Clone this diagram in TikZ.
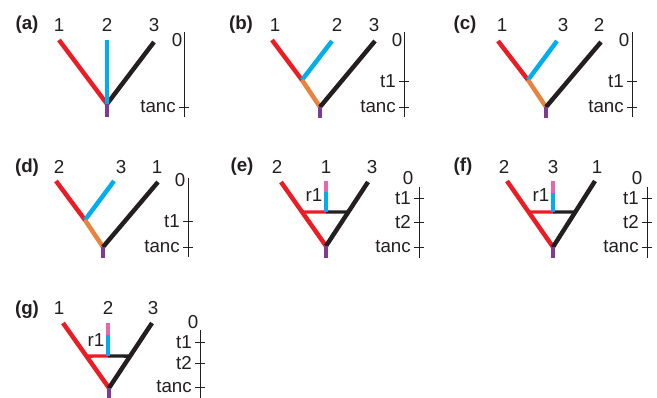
\documentclass[tikz,border=0pt]{standalone}
\usepackage{fontspec}
\setmainfont{Liberation Sans}
\usetikzlibrary{positioning,calc}
\definecolor{redline}{RGB}{237,28,36}
\definecolor{blueline}{RGB}{0,174,239}
\definecolor{blackline}{RGB}{35,31,32}
\definecolor{orangeline}{RGB}{232,132,62}
\definecolor{purpleline}{RGB}{128,58,148}
\definecolor{pinkline}{RGB}{234,102,170}

\tikzset{
  branch/.style={line width=3.8pt},
  link/.style={line width=2.8pt},
  stub/.style={line width=3.6pt, purpleline},
  timeline/.style={line width=0.8pt, blackline},
  leaf/.style={font=\fontsize{16}{18}\selectfont, inner sep=0pt, text=blackline},
  panel/.style={font=\fontsize{16}{18}\selectfont\bfseries, inner sep=0pt, text=blackline},
  timelabel/.style={leaf, left=2.4mm of #1},
}

\begin{document}
\begin{tikzpicture}[x=0.3mm, y=-0.3mm]
\useasboundingbox (0,0) rectangle (657,398);

% ================= (a) =================
\node[panel] (pa) at (27,25) {(a)};
\node[leaf] (a1) at (59,25) {1};
\node[leaf] (a2) at (107,25) {2};
\node[leaf] (a3) at (154,25) {3};
\coordinate (a1t) at (59,40);
\coordinate (a2t) at (107,40);
\coordinate (a3t) at (154,42);
\coordinate (ar) at (107,104);
\coordinate (ab) at (107,117);
\draw[branch, redline] (a1t) -- (ar);
\draw[branch, blackline] (a3t) -- (ar);
\draw[branch, blueline] (a2t) -- (ar);
\draw[stub] (ar) -- (ab);
% time axis
\coordinate (ax0) at (184,32);
\coordinate (axanc) at (184,107);
\coordinate (axend) at (184,117);
\draw[timeline] (ax0) -- (axend);
\draw[timeline] (axanc) ++(-5,0) -- ++(10,0);
\node[leaf] (a0l) at (177,40) {0};
\node[timelabel=axanc] (aancl) {tanc};

% ================= (b) =================
\node[panel] (pb) at (241,25) {(b)};
\node[leaf] (b1) at (275,25) {1};
\node[leaf] (b2) at (337,25) {2};
\node[leaf] (b3) at (374,25) {3};
\coordinate (b1t) at (272,40);
\coordinate (bj) at (302,80);
\coordinate (b2t) at (332,41);
\coordinate (br) at (320,107);
\coordinate (b3t) at (375,41);
\coordinate (bb) at (320,118);
\draw[branch, redline] (b1t) -- (bj);
\draw[branch, blueline] (bj) -- (b2t);
\draw[branch, orangeline] (bj) -- (br);
\draw[branch, blackline] (b3t) -- (br);
\draw[stub] (br) -- (bb);
% time axis
\coordinate (bx0) at (404,32);
\coordinate (bxt1) at (404,81);
\coordinate (bxanc) at (404,107);
\coordinate (bxend) at (404,117);
\draw[timeline] (bx0) -- (bxend);
\foreach \t in {bxt1,bxanc}
  \draw[timeline] (\t) ++(-5,0) -- ++(10,0);
\node[leaf] (b0l) at (397,40) {0};
\node[timelabel=bxt1] (bt1l) {t1};
\node[timelabel=bxanc] (bancl) {tanc};

% ================= (c) =================
\node[panel] (pc) at (465,25) {(c)};
\node[leaf] (c1) at (502,25) {1};
\node[leaf] (c3) at (563,25) {3};
\node[leaf] (c2) at (599,25) {2};
\coordinate (c1t) at (498,41);
\coordinate (cj) at (528,80);
\coordinate (c3t) at (557,41);
\coordinate (cr) at (546,107);
\coordinate (c2t) at (601,42);
\coordinate (cb) at (546,118);
\draw[branch, redline] (c1t) -- (cj);
\draw[branch, blueline] (cj) -- (c3t);
\draw[branch, orangeline] (cj) -- (cr);
\draw[branch, blackline] (c2t) -- (cr);
\draw[stub] (cr) -- (cb);
% time axis
\coordinate (cx0) at (632,32);
\coordinate (cxt1) at (632,81);
\coordinate (cxanc) at (632,107);
\coordinate (cxend) at (632,117);
\draw[timeline] (cx0) -- (cxend);
\foreach \t in {cxt1,cxanc}
  \draw[timeline] (\t) ++(-5,0) -- ++(10,0);
\node[leaf] (c0l) at (624,40) {0};
\node[timelabel=cxt1] (ct1l) {t1};
\node[timelabel=cxanc] (cancl) {tanc};

% ================= (d) =================
\node[panel] (pd) at (27,168) {(d)};
\node[leaf] (d2) at (59,167) {2};
\node[leaf] (d3) at (121,167) {3};
\node[leaf] (d1) at (157,167) {1};
\coordinate (d2t) at (56,181);
\coordinate (dj) at (85,220);
\coordinate (d3t) at (114,181);
\coordinate (dr) at (103,247);
\coordinate (d1t) at (158,182);
\coordinate (db) at (103,258);
\draw[branch, redline] (d2t) -- (dj);
\draw[branch, blueline] (dj) -- (d3t);
\draw[branch, orangeline] (dj) -- (dr);
\draw[branch, blackline] (d1t) -- (dr);
\draw[stub] (dr) -- (db);
% time axis
\coordinate (dx0) at (188,178);
\coordinate (dxt1) at (188,221);
\coordinate (dxanc) at (188,247);
\coordinate (dxend) at (188,257);
\draw[timeline] (dx0) -- (dxend);
\foreach \t in {dxt1,dxanc}
  \draw[timeline] (\t) ++(-5,0) -- ++(10,0);
\node[leaf] (d0l) at (180,180) {0};
\node[timelabel=dxt1] (dt1l) {t1};
\node[timelabel=dxanc] (dancl) {tanc};

% ================= (e) =================
\node[panel] (pe) at (242,167) {(e)};
\node[leaf] (e2) at (277,167) {2};
\node[leaf] (e1) at (326,167) {1};
\node[leaf] (e3) at (372,167) {3};
\coordinate (e2t) at (281,182);
\coordinate (e3t) at (368,182);
\coordinate (er) at (326,246);
\coordinate (eb) at (326,258);
\coordinate (el) at ($(e2t)!0.47!(er)$);
\coordinate (erb) at ($(e3t)!0.47!(er)$);
\coordinate (eh) at (326,212);
\coordinate (ep) at (326,192);
\coordinate (e1t) at (326,181);
\draw[link, redline] (el) -- (eh);
\draw[link, blackline] (eh) -- (erb);
\draw[branch, blueline] (eh) -- (ep);
\draw[branch, pinkline] (ep) -- (e1t);
\draw[branch, redline] (e2t) -- (er);
\draw[branch, blackline] (e3t) -- (er);
\draw[stub] (er) -- (eb);
\node[leaf] (er1) at (314,195) {r1};
% time axis
\coordinate (ex0) at (419,187);
\coordinate (ext1) at (419,198);
\coordinate (ext2) at (419,222);
\coordinate (exanc) at (419,247);
\coordinate (exend) at (419,258);
\draw[timeline] (ex0) -- (exend);
\foreach \t in {ext1,ext2,exanc}
  \draw[timeline] (\t) ++(-5,0) -- ++(10,0);
\node[leaf] (e0l) at (408,178) {0};
\node[timelabel=ext1] (et1l) {t1};
\node[timelabel=ext2] (et2l) {t2};
\node[timelabel=exanc] (eancl) {tanc};

% ================= (f) =================
\node[panel] (pf) at (463,167) {(f)};
\node[leaf] (f2) at (504,167) {2};
\node[leaf] (f3) at (553,167) {3};
\node[leaf] (f1) at (597,167) {1};
\coordinate (f2t) at (507,181);
\coordinate (f1t) at (595,181);
\coordinate (fr) at (553,247);
\coordinate (fb) at (553,258);
\coordinate (fl) at ($(f2t)!0.47!(fr)$);
\coordinate (frb) at ($(f1t)!0.47!(fr)$);
\coordinate (fh) at (553,212);
\coordinate (fp) at (553,193);
\coordinate (f3t) at (553,181);
\draw[link, redline] (fl) -- (fh);
\draw[link, blackline] (fh) -- (frb);
\draw[branch, blueline] (fh) -- (fp);
\draw[branch, pinkline] (fp) -- (f3t);
\draw[branch, redline] (f2t) -- (fr);
\draw[branch, blackline] (f1t) -- (fr);
\draw[stub] (fr) -- (fb);
\node[leaf] (fr1) at (541,195) {r1};
% time axis
\coordinate (fx0) at (647,187);
\coordinate (fxt1) at (647,198);
\coordinate (fxt2) at (647,222);
\coordinate (fxanc) at (647,247);
\coordinate (fxend) at (647,258);
\draw[timeline] (fx0) -- (fxend);
\foreach \t in {fxt1,fxt2,fxanc}
  \draw[timeline] (\t) ++(-5,0) -- ++(10,0);
\node[leaf] (f0l) at (637,178) {0};
\node[timelabel=fxt1] (ft1l) {t1};
\node[timelabel=fxt2] (ft2l) {t2};
\node[timelabel=fxanc] (fancl) {tanc};

% ================= (g) =================
\node[panel] (pg) at (27,310) {(g)};
\node[leaf] (g1) at (59,308) {1};
\node[leaf] (g2) at (108,308) {2};
\node[leaf] (g3) at (153,308) {3};
\coordinate (g1t) at (63,323);
\coordinate (g3t) at (152,323);
\coordinate (gr) at (109,388);
\coordinate (gb) at (109,399);
\coordinate (gl) at ($(g1t)!0.51!(gr)$);
\coordinate (grb) at ($(g3t)!0.51!(gr)$);
\coordinate (gh) at (108,356);
\coordinate (gp) at (108,335);
\coordinate (g2t) at (108,323);
\draw[link, redline] (gl) -- (gh);
\draw[link, blackline] (gh) -- (grb);
\draw[branch, blueline] (gh) -- (gp);
\draw[branch, pinkline] (gp) -- (g2t);
\draw[branch, redline] (g1t) -- (gr);
\draw[branch, blackline] (g3t) -- (gr);
\draw[stub] (gr) -- (gb);
\node[leaf] (gr1) at (96,340) {r1};
% time axis
\coordinate (gx0) at (200,330);
\coordinate (gxt1) at (200,342);
\coordinate (gxt2) at (200,363);
\coordinate (gxanc) at (200,387);
\coordinate (gxend) at (200,399);
\draw[timeline] (gx0) -- (gxend);
\foreach \t in {gxt1,gxt2,gxanc}
  \draw[timeline] (\t) ++(-5,0) -- ++(10,0);
\node[leaf] (g0l) at (193,322) {0};
\node[timelabel=gxt1] (gt1l) {t1};
\node[timelabel=gxt2] (gt2l) {t2};
\node[timelabel=gxanc] (gancl) {tanc};

\end{tikzpicture}
\end{document}
